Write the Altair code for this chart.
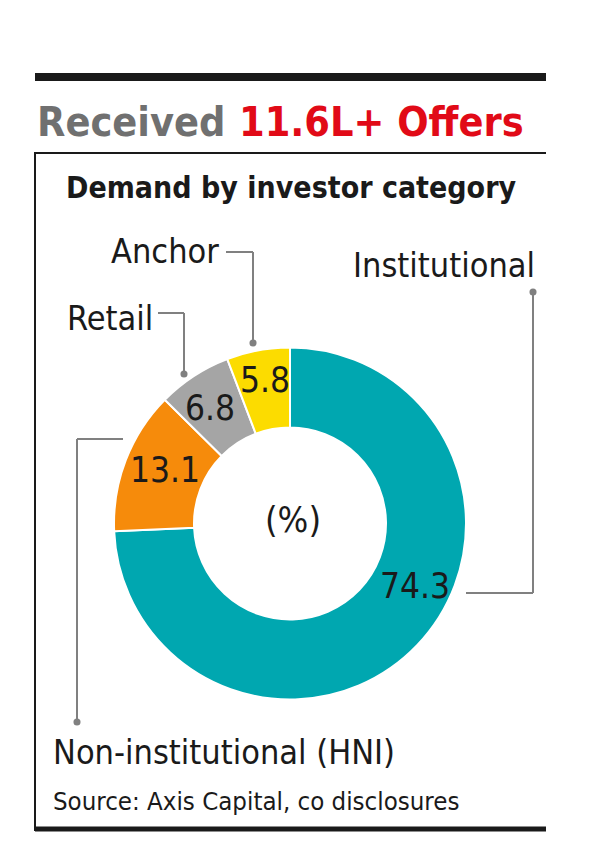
import altair as alt
import pandas as pd

# ---------------- data ----------------
categories = ["Institutional", "Non-institutional (HNI)", "Retail", "Anchor"]
shares = [74.3, 13.1, 6.8, 5.8]
slice_colors = ["#00A7B0", "#F68B0B", "#A5A5A5", "#FCDC00"]

title_grey = "Received"
title_red = "11.6L+ Offers"
subtitle = "Demand by investor category"
unit_label = "(%)"
source_note = "Source: Axis Capital, co disclosures"

# ---------------- layout (page pixels) ----------------
OFF = 8
W, H = 584, 837
CX, CY = 290, 523.5
R_OUT, R_IN = 176, 96

FONT = "DejaVu Sans Condensed, sans-serif"
INK = "#1a1a1a"
LEAD = "#808080"

# value label anchor (center, baseline) per category
value_pos_x = [415, 165, 210, 265]
value_pos_y = [598, 482, 420, 392]
# category label anchor (left, baseline)
cat_pos_x = [353, 53, 67, 111]
cat_pos_y = [277, 764, 330, 263]
# leader polylines (two segments each) and dot
leader_segments = {
    "Institutional": [(533, 292, 533, 593), (533, 593, 466, 593)],
    "Non-institutional (HNI)": [(123, 439, 77, 439), (77, 439, 77, 722)],
    "Retail": [(158, 313, 184, 313), (184, 313, 184, 374)],
    "Anchor": [(226, 252, 253, 252), (253, 252, 253, 343)],
}
leader_dots = {
    "Institutional": (533, 292),
    "Non-institutional (HNI)": (77, 722),
    "Retail": (184, 374),
    "Anchor": (253, 343),
}
frame_rules = [
    (35, 77, 546, 77, 8),
    (34, 153, 546, 153, 2),
    (35, 153, 35, 831, 2),
    (35, 829, 546, 829, 5),
]

# ---------------- tables ----------------
pie_df = pd.DataFrame({"category": categories, "share": shares, "rank": list(range(len(categories)))})
val_df = pd.DataFrame({
    "label": [f"{v:.1f}" for v in shares],
    "x": value_pos_x, "y": value_pos_y,
})
cat_df = pd.DataFrame({"label": categories, "x": cat_pos_x, "y": cat_pos_y})
seg_rows = []
for c in categories:
    for (x1, y1, x2, y2) in leader_segments[c]:
        seg_rows.append({"x": x1, "y": y1, "x2": x2, "y2": y2})
seg_df = pd.DataFrame(seg_rows)
dot_df = pd.DataFrame([{"x": leader_dots[c][0], "y": leader_dots[c][1]} for c in categories])
frame_df = pd.DataFrame([{"x": a, "y": b, "x2": c, "y2": d, "w": w} for a, b, c, d, w in frame_rules])

xs = alt.Scale(domain=[OFF, OFF + W], range=[0, W], nice=False, zero=False)
ys = alt.Scale(domain=[OFF, OFF + H], range=[0, H], nice=False, zero=False)
X = lambda f: alt.X(f"{f}:Q", scale=xs, axis=None)
Y = lambda f: alt.Y(f"{f}:Q", scale=ys, axis=None)

frame = alt.Chart(frame_df).mark_rule(color=INK).encode(
    x=X("x"), y=Y("y"), x2="x2:Q", y2="y2:Q",
    strokeWidth=alt.StrokeWidth("w:Q", scale=None),
)

def text_layer(df, size, color=INK, weight="normal", align="left"):
    return alt.Chart(df).mark_text(
        font=FONT, fontSize=size, fontWeight=weight, color=color,
        align=align, baseline="alphabetic",
    ).encode(x=X("x"), y=Y("y"), text="label:N")

title_g = text_layer(pd.DataFrame({"label": [title_grey], "x": [37], "y": [136]}), 41, "#707070", "bold")
title_r = text_layer(pd.DataFrame({"label": [title_red], "x": [239], "y": [136]}), 41, "#E10A17", "bold")
sub = text_layer(pd.DataFrame({"label": [subtitle], "x": [66], "y": [198]}), 30, INK, "bold")

arcs = alt.Chart(pie_df).mark_arc(
    outerRadius=R_OUT, innerRadius=R_IN, stroke="white", strokeWidth=2
).encode(
    x=alt.value(CX - OFF), y=alt.value(CY - OFF),
    theta=alt.Theta("share:Q", stack=True),
    order=alt.Order("rank:Q"),
    color=alt.Color("category:N", scale=alt.Scale(domain=categories, range=slice_colors), legend=None),
)

leaders = alt.Chart(seg_df).mark_rule(color=LEAD, strokeWidth=2).encode(
    x=X("x"), y=Y("y"), x2="x2:Q", y2="y2:Q"
)
dots = alt.Chart(dot_df).mark_circle(color=LEAD, size=50, opacity=1).encode(x=X("x"), y=Y("y"))

vals = text_layer(val_df, 35, INK, "normal", "center")
cats = text_layer(cat_df, 34, INK, "normal", "left")
unit = text_layer(pd.DataFrame({"label": [unit_label], "x": [293], "y": [532]}), 36, INK, "normal", "center")
src = text_layer(pd.DataFrame({"label": [source_note], "x": [53], "y": [810]}), 25.6, INK, "normal", "left")

chart = alt.layer(
    frame, title_g, title_r, sub, arcs, leaders, dots, vals, cats, unit, src
).properties(
    width=W, height=H, padding=0, autosize=alt.AutoSizeParams(type="none"),
    background="white",
).configure_view(strokeWidth=0)

chart.save("out.html", embed_options={"renderer": "svg", "actions": False})
